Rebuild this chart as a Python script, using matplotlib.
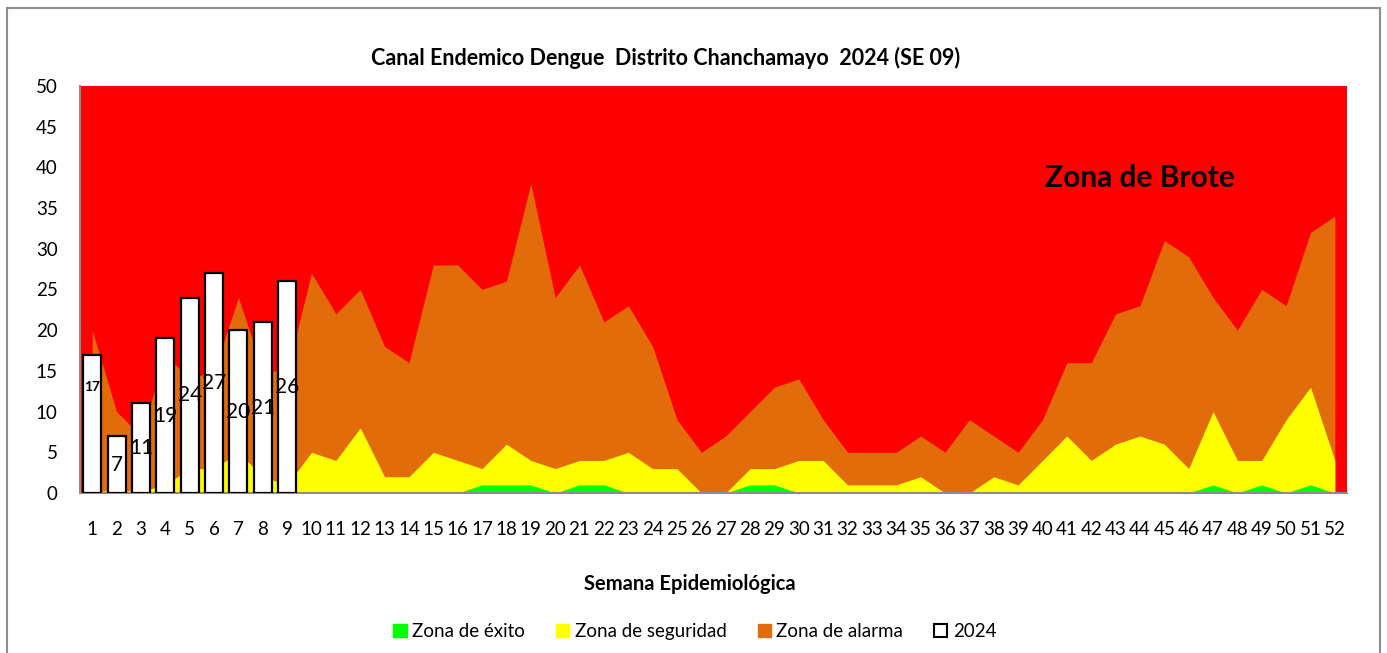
import numpy as np
import matplotlib
matplotlib.use('Agg')
from matplotlib import pyplot as plt
from matplotlib.patches import Rectangle, Patch

plt.rcParams['font.family'] = ['Lato', 'DejaVu Sans']

semanas = list(range(1, 53))

# zona de exito (verde)
exito = [0, 0, 0, 0, 0, 0, 0, 0, 0, 0, 0, 0, 0, 0, 0, 0, 1, 1, 1, 0,
         1, 1, 0, 0, 0, 0, 0, 1, 1, 0, 0, 0, 0, 0, 0, 0, 0, 0, 0, 0,
         0, 0, 0, 0, 0, 0, 1, 0, 1, 0, 1, 0]

# zona de seguridad (amarillo)
seguridad = [0.2, 0.3, 0.2, 1, 3, 3, 5, 2, 1, 5, 4, 8, 2, 2, 5, 4, 3, 6, 4, 3,
             4, 4, 5, 3, 3, 0, 0, 3, 3, 4, 4, 1, 1, 1, 2, 0, 0, 2, 1, 4,
             7, 4, 6, 7, 6, 3, 10, 4, 4, 9, 13, 4]

# zona de alarma (naranja)
alarma = [20, 10, 7, 17, 14, 15, 24, 15, 15, 27, 22, 25, 18, 16, 28, 28, 25, 26, 38, 24,
          28, 21, 23, 18, 9, 5, 7, 10, 13, 14, 9, 5, 5, 5, 7, 5, 9, 7, 5, 9,
          16, 16, 22, 23, 31, 29, 24, 20, 25, 23, 32, 34]

# casos 2024
semanas_2024 = [1, 2, 3, 4, 5, 6, 7, 8, 9]
casos_2024 = [17, 7, 11, 19, 24, 27, 20, 21, 26]

fig = plt.figure(figsize=(13.87, 6.53), dpi=100)
ax = fig.add_axes([0.0577, 0.245, 0.9135, 0.6235])

ax.set_facecolor('#ff0000')
ax.fill_between(semanas, 0, alarma, color='#e26b0a', lw=0, label='Zona de alarma')
ax.fill_between(semanas, 0, seguridad, color='#ffff00', lw=0, label='Zona de seguridad')
ax.fill_between(semanas, 0, exito, color='#00ff00', lw=0, label='Zona de éxito')

bars = ax.bar(semanas_2024, casos_2024, width=0.74, color='white', edgecolor='black',
              linewidth=1.6, label='2024', zorder=3)
for s, c in zip(semanas_2024, casos_2024):
    if s == 1:
        ax.text(s, 13, str(c), ha='center', va='center', fontsize=10, fontweight='bold', zorder=4)
    else:
        ax.text(s, c / 2, str(c), ha='center', va='center', fontsize=15, zorder=4)

ax.text(40.1, 38.7, 'Zona de Brote', fontsize=21.5, fontweight='bold',
        va='center', ha='left')

ax.set_xlim(0.5, 52.5)
ax.set_ylim(0, 50)
ax.set_yticks(range(0, 51, 5))
ax.set_xticks(semanas)
ax.tick_params(length=0, labelsize=13.5)
ax.tick_params(axis='x', pad=20)
ax.tick_params(axis='y', pad=16)
for sp in ['top', 'right']:
    ax.spines[sp].set_visible(False)
for sp in ['left', 'bottom']:
    ax.spines[sp].set_color('#8c8c8c')
    ax.spines[sp].set_linewidth(1.5)

ax.set_title('Canal Endemico Dengue  Distrito Chanchamayo  2024 (SE 09)', fontsize=15.5,
             fontweight='bold', pad=15, x=0.462)
ax.set_xlabel('Semana Epidemiológica', fontsize=14.5, fontweight='bold', labelpad=26, x=0.481)

handles = [Patch(color='#00ff00'), Patch(color='#ffff00'), Patch(color='#e26b0a'),
           Patch(facecolor='white', edgecolor='black', linewidth=1.5)]
labels = ['Zona de éxito', 'Zona de seguridad', 'Zona de alarma', '2024']
fig.legend(handles, labels, loc='center', bbox_to_anchor=(0.501, 0.033), ncol=4,
           frameon=False, fontsize=13.5, handlelength=0.7, handleheight=0.7,
           handletextpad=0.3, columnspacing=1.65)

fig.patches.append(Rectangle((7 / 1387, -0.05), 1373 / 1387, 1.05 - 8 / 653,
                             transform=fig.transFigure, fill=False,
                             edgecolor='#8c8c8c', linewidth=1.5))

fig.savefig('out.png', dpi=100)
